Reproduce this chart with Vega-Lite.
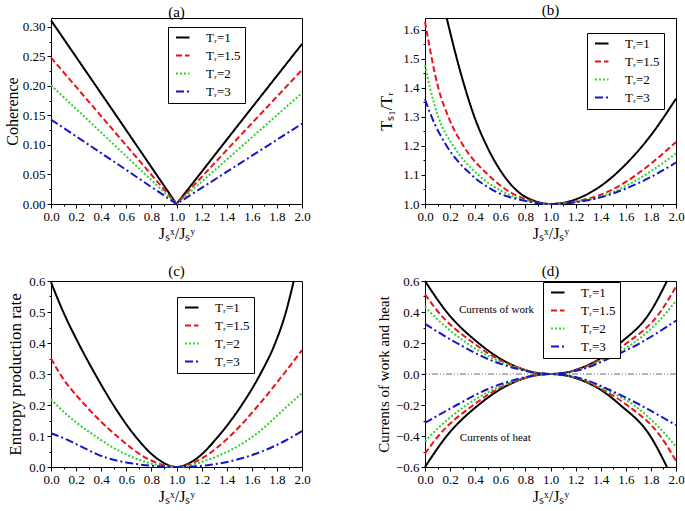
{
  "$schema": "https://vega.github.io/schema/vega-lite/v6.json",
  "background": "white",
  "padding": {"left": 3, "top": 2, "right": 5, "bottom": 2},
  "config": {
    "font": "Liberation Serif",
    "view": {"stroke": "black", "strokeWidth": 1},
    "axis": {"domainColor": "black", "tickColor": "black", "labelColor": "black", "titleColor": "black", "labelFont": "Liberation Serif", "titleFont": "Liberation Serif", "labelFontSize": 13, "titleFontSize": 16, "titleFontWeight": "normal", "grid": false, "tickSize": 4, "labelPadding": 2, "labelFlush": false, "labelOverlap": false},
    "title": {"font": "Liberation Serif", "fontSize": 15, "fontWeight": "normal", "offset": -4, "color": "black"},
    "legend": {"orient": "none", "title": null, "strokeColor": "black", "fillColor": "white", "padding": 4, "labelFont": "Liberation Serif", "labelFontSize": 13, "labelColor": "black", "symbolType": "M-0.5,0H2.2", "symbolSize": 100, "symbolStrokeWidth": 2, "rowPadding": 4, "labelOffset": 21},
    "line": {"strokeWidth": 2, "interpolate": "monotone"}
  },
  "bounds": "flush",
  "columns": 2,
  "spacing": {"row": 77, "column": 123},
  "resolve": {"scale": {"color": "independent", "strokeDash": "independent"}},
  "datasets": {
    "a": [
      {"T": "1", "x": 0, "y": 0.311}, {"T": "1", "x": 0.5, "y": 0.156}, {"T": "1", "x": 1.0, "y": 0}, {"T": "1", "x": 1.5, "y": 0.136}, {"T": "1", "x": 2.0, "y": 0.271},
      {"T": "1.5", "x": 0, "y": 0.248}, {"T": "1.5", "x": 0.5, "y": 0.124}, {"T": "1.5", "x": 1.0, "y": 0}, {"T": "1.5", "x": 1.5, "y": 0.114}, {"T": "1.5", "x": 2.0, "y": 0.227},
      {"T": "2", "x": 0, "y": 0.201}, {"T": "2", "x": 0.5, "y": 0.101}, {"T": "2", "x": 1.0, "y": 0}, {"T": "2", "x": 1.5, "y": 0.094}, {"T": "2", "x": 2.0, "y": 0.188},
      {"T": "3", "x": 0, "y": 0.143}, {"T": "3", "x": 0.5, "y": 0.072}, {"T": "3", "x": 1.0, "y": 0}, {"T": "3", "x": 1.5, "y": 0.068}, {"T": "3", "x": 2.0, "y": 0.136}
    ],
    "b": [
      {"T": "1", "x": 0.173, "y": 1.641}, {"T": "1", "x": 0.226, "y": 1.547}, {"T": "1", "x": 0.319, "y": 1.40}, {"T": "1", "x": 0.394, "y": 1.30}, {"T": "1", "x": 0.492, "y": 1.20}, {"T": "1", "x": 0.625, "y": 1.10}, {"T": "1", "x": 0.745, "y": 1.041}, {"T": "1", "x": 0.864, "y": 1.012}, {"T": "1", "x": 1.0, "y": 1.0}, {"T": "1", "x": 1.2, "y": 1.016}, {"T": "1", "x": 1.4, "y": 1.062}, {"T": "1", "x": 1.6, "y": 1.137}, {"T": "1", "x": 1.8, "y": 1.237}, {"T": "1", "x": 2.0, "y": 1.363},
      {"T": "1.5", "x": 0, "y": 1.628}, {"T": "1.5", "x": 0.106, "y": 1.40}, {"T": "1.5", "x": 0.186, "y": 1.30}, {"T": "1.5", "x": 0.306, "y": 1.20}, {"T": "1.5", "x": 0.505, "y": 1.10}, {"T": "1.5", "x": 0.678, "y": 1.041}, {"T": "1.5", "x": 0.838, "y": 1.012}, {"T": "1.5", "x": 1.0, "y": 1.0}, {"T": "1.5", "x": 1.2, "y": 1.009}, {"T": "1.5", "x": 1.4, "y": 1.032}, {"T": "1.5", "x": 1.6, "y": 1.076}, {"T": "1.5", "x": 1.8, "y": 1.139}, {"T": "1.5", "x": 2.0, "y": 1.214},
      {"T": "2", "x": 0, "y": 1.478}, {"T": "2", "x": 0.04, "y": 1.40}, {"T": "2", "x": 0.106, "y": 1.30}, {"T": "2", "x": 0.226, "y": 1.20}, {"T": "2", "x": 0.426, "y": 1.10}, {"T": "2", "x": 0.625, "y": 1.041}, {"T": "2", "x": 0.81, "y": 1.012}, {"T": "2", "x": 1.0, "y": 1.0}, {"T": "2", "x": 1.2, "y": 1.007}, {"T": "2", "x": 1.4, "y": 1.026}, {"T": "2", "x": 1.6, "y": 1.062}, {"T": "2", "x": 1.8, "y": 1.113}, {"T": "2", "x": 2.0, "y": 1.174},
      {"T": "3", "x": 0, "y": 1.361}, {"T": "3", "x": 0.053, "y": 1.30}, {"T": "3", "x": 0.173, "y": 1.20}, {"T": "3", "x": 0.372, "y": 1.10}, {"T": "3", "x": 0.572, "y": 1.041}, {"T": "3", "x": 0.785, "y": 1.012}, {"T": "3", "x": 1.0, "y": 1.0}, {"T": "3", "x": 1.2, "y": 1.006}, {"T": "3", "x": 1.4, "y": 1.023}, {"T": "3", "x": 1.6, "y": 1.053}, {"T": "3", "x": 1.8, "y": 1.093}, {"T": "3", "x": 2.0, "y": 1.143}
    ],
    "c": [
      {"T": "1", "x": 0, "y": 0.596}, {"T": "1", "x": 0.098, "y": 0.5}, {"T": "1", "x": 0.218, "y": 0.4}, {"T": "1", "x": 0.351, "y": 0.3}, {"T": "1", "x": 0.497, "y": 0.2}, {"T": "1", "x": 0.67, "y": 0.1}, {"T": "1", "x": 0.843, "y": 0.028}, {"T": "1", "x": 1.0, "y": 0}, {"T": "1", "x": 1.162, "y": 0.028}, {"T": "1", "x": 1.335, "y": 0.1}, {"T": "1", "x": 1.52, "y": 0.2}, {"T": "1", "x": 1.668, "y": 0.3}, {"T": "1", "x": 1.787, "y": 0.4}, {"T": "1", "x": 1.872, "y": 0.5}, {"T": "1", "x": 1.934, "y": 0.6},
      {"T": "1.5", "x": 0, "y": 0.350}, {"T": "1.5", "x": 0.072, "y": 0.3}, {"T": "1.5", "x": 0.271, "y": 0.2}, {"T": "1.5", "x": 0.524, "y": 0.1}, {"T": "1.5", "x": 0.763, "y": 0.028}, {"T": "1.5", "x": 1.0, "y": 0}, {"T": "1.5", "x": 1.202, "y": 0.028}, {"T": "1.5", "x": 1.428, "y": 0.1}, {"T": "1.5", "x": 1.654, "y": 0.2}, {"T": "1.5", "x": 1.854, "y": 0.3}, {"T": "1.5", "x": 2.0, "y": 0.377},
      {"T": "2", "x": 0, "y": 0.219}, {"T": "2", "x": 0.045, "y": 0.2}, {"T": "2", "x": 0.351, "y": 0.1}, {"T": "2", "x": 0.67, "y": 0.028}, {"T": "2", "x": 1.0, "y": 0}, {"T": "2", "x": 1.282, "y": 0.028}, {"T": "2", "x": 1.614, "y": 0.1}, {"T": "2", "x": 1.894, "y": 0.2}, {"T": "2", "x": 2.0, "y": 0.238},
      {"T": "3", "x": 0, "y": 0.109}, {"T": "3", "x": 0.059, "y": 0.1}, {"T": "3", "x": 0.457, "y": 0.028}, {"T": "3", "x": 0.75, "y": 0.006}, {"T": "3", "x": 1.0, "y": 0}, {"T": "3", "x": 1.25, "y": 0.006}, {"T": "3", "x": 1.52, "y": 0.028}, {"T": "3", "x": 1.934, "y": 0.1}, {"T": "3", "x": 2.0, "y": 0.116}
    ],
    "d": [
      {"T": "1", "b": "w", "x": 0, "y": 0.6}, {"T": "1", "b": "w", "x": 0.173, "y": 0.4}, {"T": "1", "b": "w", "x": 0.426, "y": 0.2}, {"T": "1", "b": "w", "x": 0.598, "y": 0.1}, {"T": "1", "b": "w", "x": 0.758, "y": 0.037}, {"T": "1", "b": "w", "x": 0.9, "y": 0.006}, {"T": "1", "b": "w", "x": 1.0, "y": 0}, {"T": "1", "b": "w", "x": 1.1, "y": 0.006}, {"T": "1", "b": "w", "x": 1.237, "y": 0.037}, {"T": "1", "b": "w", "x": 1.396, "y": 0.1}, {"T": "1", "b": "w", "x": 1.556, "y": 0.2}, {"T": "1", "b": "w", "x": 1.795, "y": 0.4}, {"T": "1", "b": "w", "x": 1.928, "y": 0.6},
      {"T": "1", "b": "h", "x": 0, "y": -0.6}, {"T": "1", "b": "h", "x": 0.173, "y": -0.4}, {"T": "1", "b": "h", "x": 0.426, "y": -0.2}, {"T": "1", "b": "h", "x": 0.598, "y": -0.1}, {"T": "1", "b": "h", "x": 0.758, "y": -0.037}, {"T": "1", "b": "h", "x": 0.9, "y": -0.006}, {"T": "1", "b": "h", "x": 1.0, "y": 0}, {"T": "1", "b": "h", "x": 1.1, "y": -0.006}, {"T": "1", "b": "h", "x": 1.237, "y": -0.037}, {"T": "1", "b": "h", "x": 1.396, "y": -0.1}, {"T": "1", "b": "h", "x": 1.556, "y": -0.2}, {"T": "1", "b": "h", "x": 1.795, "y": -0.4}, {"T": "1", "b": "h", "x": 1.928, "y": -0.6},
      {"T": "1.5", "b": "w", "x": 0, "y": 0.514}, {"T": "1.5", "b": "w", "x": 0.106, "y": 0.4}, {"T": "1.5", "b": "w", "x": 0.386, "y": 0.2}, {"T": "1.5", "b": "w", "x": 0.572, "y": 0.1}, {"T": "1.5", "b": "w", "x": 0.758, "y": 0.037}, {"T": "1.5", "b": "w", "x": 0.9, "y": 0.006}, {"T": "1.5", "b": "w", "x": 1.0, "y": 0}, {"T": "1.5", "b": "w", "x": 1.1, "y": 0.006}, {"T": "1.5", "b": "w", "x": 1.25, "y": 0.037}, {"T": "1.5", "b": "w", "x": 1.41, "y": 0.1}, {"T": "1.5", "b": "w", "x": 1.609, "y": 0.2}, {"T": "1.5", "b": "w", "x": 1.875, "y": 0.4}, {"T": "1.5", "b": "w", "x": 2.0, "y": 0.563},
      {"T": "1.5", "b": "h", "x": 0, "y": -0.514}, {"T": "1.5", "b": "h", "x": 0.106, "y": -0.4}, {"T": "1.5", "b": "h", "x": 0.386, "y": -0.2}, {"T": "1.5", "b": "h", "x": 0.572, "y": -0.1}, {"T": "1.5", "b": "h", "x": 0.758, "y": -0.037}, {"T": "1.5", "b": "h", "x": 0.9, "y": -0.006}, {"T": "1.5", "b": "h", "x": 1.0, "y": 0}, {"T": "1.5", "b": "h", "x": 1.1, "y": -0.006}, {"T": "1.5", "b": "h", "x": 1.25, "y": -0.037}, {"T": "1.5", "b": "h", "x": 1.41, "y": -0.1}, {"T": "1.5", "b": "h", "x": 1.609, "y": -0.2}, {"T": "1.5", "b": "h", "x": 1.875, "y": -0.4}, {"T": "1.5", "b": "h", "x": 2.0, "y": -0.56},
      {"T": "2", "b": "w", "x": 0, "y": 0.434}, {"T": "2", "b": "w", "x": 0.04, "y": 0.4}, {"T": "2", "b": "w", "x": 0.332, "y": 0.2}, {"T": "2", "b": "w", "x": 0.545, "y": 0.1}, {"T": "2", "b": "w", "x": 0.745, "y": 0.037}, {"T": "2", "b": "w", "x": 0.9, "y": 0.006}, {"T": "2", "b": "w", "x": 1.0, "y": 0}, {"T": "2", "b": "w", "x": 1.1, "y": 0.006}, {"T": "2", "b": "w", "x": 1.263, "y": 0.037}, {"T": "2", "b": "w", "x": 1.436, "y": 0.1}, {"T": "2", "b": "w", "x": 1.662, "y": 0.2}, {"T": "2", "b": "w", "x": 1.928, "y": 0.4}, {"T": "2", "b": "w", "x": 2.0, "y": 0.473},
      {"T": "2", "b": "h", "x": 0, "y": -0.434}, {"T": "2", "b": "h", "x": 0.04, "y": -0.4}, {"T": "2", "b": "h", "x": 0.332, "y": -0.2}, {"T": "2", "b": "h", "x": 0.545, "y": -0.1}, {"T": "2", "b": "h", "x": 0.745, "y": -0.037}, {"T": "2", "b": "h", "x": 0.9, "y": -0.006}, {"T": "2", "b": "h", "x": 1.0, "y": 0}, {"T": "2", "b": "h", "x": 1.1, "y": -0.006}, {"T": "2", "b": "h", "x": 1.263, "y": -0.037}, {"T": "2", "b": "h", "x": 1.436, "y": -0.1}, {"T": "2", "b": "h", "x": 1.662, "y": -0.2}, {"T": "2", "b": "h", "x": 1.928, "y": -0.4}, {"T": "2", "b": "h", "x": 2.0, "y": -0.469},
      {"T": "3", "b": "w", "x": 0, "y": 0.323}, {"T": "3", "b": "w", "x": 0.253, "y": 0.2}, {"T": "3", "b": "w", "x": 0.492, "y": 0.1}, {"T": "3", "b": "w", "x": 0.718, "y": 0.037}, {"T": "3", "b": "w", "x": 0.9, "y": 0.006}, {"T": "3", "b": "w", "x": 1.0, "y": 0}, {"T": "3", "b": "w", "x": 1.1, "y": 0.006}, {"T": "3", "b": "w", "x": 1.277, "y": 0.037}, {"T": "3", "b": "w", "x": 1.463, "y": 0.1}, {"T": "3", "b": "w", "x": 1.715, "y": 0.2}, {"T": "3", "b": "w", "x": 2.0, "y": 0.344},
      {"T": "3", "b": "h", "x": 0, "y": -0.316}, {"T": "3", "b": "h", "x": 0.253, "y": -0.2}, {"T": "3", "b": "h", "x": 0.492, "y": -0.1}, {"T": "3", "b": "h", "x": 0.718, "y": -0.037}, {"T": "3", "b": "h", "x": 0.9, "y": -0.006}, {"T": "3", "b": "h", "x": 1.0, "y": 0}, {"T": "3", "b": "h", "x": 1.1, "y": -0.006}, {"T": "3", "b": "h", "x": 1.277, "y": -0.037}, {"T": "3", "b": "h", "x": 1.463, "y": -0.1}, {"T": "3", "b": "h", "x": 1.715, "y": -0.2}, {"T": "3", "b": "h", "x": 2.0, "y": -0.33}
    ],
    "dzero": [{"y": 0}],
    "dtext": [
      {"x": 0.57, "y": 0.41, "label": "Currents of work"},
      {"x": 0.56, "y": -0.41, "label": "Currents of heat"}
    ]
  },
  "concat": [
    {
      "width": 251, "height": 186,
      "title": "(a)",
      "data": {"name": "a"},
      "mark": {"type": "line", "interpolate": "linear"},
      "encoding": {
        "x": {"field": "x", "type": "quantitative", "scale": {"domain": [0, 2], "nice": false}, "axis": {"values": [0, 0.1, 0.2, 0.3, 0.4, 0.5, 0.6, 0.7, 0.8, 0.9, 1.0, 1.1, 1.2, 1.3, 1.4, 1.5, 1.6, 1.7, 1.8, 1.9, 2.0], "labelExpr": "abs(round(datum.value*5)-datum.value*5)<0.001 ? format(datum.value, '.1f') : ''", "tickSize": {"condition": {"test": "abs(round(datum.value*5)-datum.value*5)<0.001", "value": 4}, "value": 2}, "title": "Jₛˣ/Jₛʸ", "titlePadding": 2}},
        "y": {"field": "y", "type": "quantitative", "scale": {"domain": [0, 0.315], "nice": false}, "axis": {"values": [0, 0.025, 0.05, 0.075, 0.1, 0.125, 0.15, 0.175, 0.2, 0.225, 0.25, 0.275, 0.3], "labelExpr": "abs(round(datum.value*20)-datum.value*20)<0.001 ? format(datum.value, '.2f') : ''", "tickSize": {"condition": {"test": "abs(round(datum.value*20)-datum.value*20)<0.001", "value": 4}, "value": 2}, "title": "Coherence", "titleFontSize": 16, "titlePadding": 2}},
        "color": {"field": "T", "type": "nominal", "scale": {"domain": ["1", "1.5", "2", "3"], "range": ["#000000", "#e8141b", "#2fd12f", "#1515c8"]}, "legend": {"legendX": 117, "legendY": 9, "labelExpr": "'Tᵣ=' + datum.label"}},
        "strokeDash": {"field": "T", "type": "nominal", "scale": {"domain": ["1", "1.5", "2", "3"], "range": [[1, 0], [6, 3], [2, 2], [8, 3, 2, 3]]}, "legend": {"legendX": 117, "legendY": 9, "labelExpr": "'Tᵣ=' + datum.label"}}
      }
    },
    {
      "width": 251, "height": 186,
      "title": "(b)",
      "data": {"name": "b"},
      "mark": {"type": "line"},
      "encoding": {
        "x": {"field": "x", "type": "quantitative", "scale": {"domain": [0, 2], "nice": false}, "axis": {"values": [0, 0.1, 0.2, 0.3, 0.4, 0.5, 0.6, 0.7, 0.8, 0.9, 1.0, 1.1, 1.2, 1.3, 1.4, 1.5, 1.6, 1.7, 1.8, 1.9, 2.0], "labelExpr": "abs(round(datum.value*5)-datum.value*5)<0.001 ? format(datum.value, '.1f') : ''", "tickSize": {"condition": {"test": "abs(round(datum.value*5)-datum.value*5)<0.001", "value": 4}, "value": 2}, "title": "Jₛˣ/Jₛʸ", "titlePadding": 2}},
        "y": {"field": "y", "type": "quantitative", "scale": {"domain": [1.0, 1.641], "nice": false, "zero": false}, "axis": {"values": [1.0, 1.05, 1.1, 1.15, 1.2, 1.25, 1.3, 1.35, 1.4, 1.45, 1.5, 1.55, 1.6], "labelExpr": "abs(round(datum.value*10)-datum.value*10)<0.001 ? format(datum.value, '.1f') : ''", "tickSize": {"condition": {"test": "abs(round(datum.value*10)-datum.value*10)<0.001", "value": 4}, "value": 2}, "title": "Tₛ₁/Tᵣ", "titlePadding": 8}},
        "color": {"field": "T", "type": "nominal", "scale": {"domain": ["1", "1.5", "2", "3"], "range": ["#000000", "#e8141b", "#2fd12f", "#1515c8"]}, "legend": {"legendX": 162, "legendY": 15, "labelExpr": "'Tᵣ=' + datum.label"}},
        "strokeDash": {"field": "T", "type": "nominal", "scale": {"domain": ["1", "1.5", "2", "3"], "range": [[1, 0], [6, 3], [2, 2], [8, 3, 2, 3]]}, "legend": {"legendX": 162, "legendY": 15, "labelExpr": "'Tᵣ=' + datum.label"}}
      }
    },
    {
      "width": 251, "height": 186,
      "title": "(c)",
      "data": {"name": "c"},
      "mark": {"type": "line"},
      "encoding": {
        "x": {"field": "x", "type": "quantitative", "scale": {"domain": [0, 2], "nice": false}, "axis": {"values": [0, 0.1, 0.2, 0.3, 0.4, 0.5, 0.6, 0.7, 0.8, 0.9, 1.0, 1.1, 1.2, 1.3, 1.4, 1.5, 1.6, 1.7, 1.8, 1.9, 2.0], "labelExpr": "abs(round(datum.value*5)-datum.value*5)<0.001 ? format(datum.value, '.1f') : ''", "tickSize": {"condition": {"test": "abs(round(datum.value*5)-datum.value*5)<0.001", "value": 4}, "value": 2}, "title": "Jₛˣ/Jₛʸ", "titlePadding": 2}},
        "y": {"field": "y", "type": "quantitative", "scale": {"domain": [0, 0.6], "nice": false}, "axis": {"values": [0, 0.05, 0.1, 0.15, 0.2, 0.25, 0.3, 0.35, 0.4, 0.45, 0.5, 0.55, 0.6], "labelExpr": "abs(round(datum.value*10)-datum.value*10)<0.001 ? format(datum.value, '.1f') : ''", "tickSize": {"condition": {"test": "abs(round(datum.value*10)-datum.value*10)<0.001", "value": 4}, "value": 2}, "title": "Entropy production rate", "titleFontSize": 17, "titlePadding": 4}},
        "color": {"field": "T", "type": "nominal", "scale": {"domain": ["1", "1.5", "2", "3"], "range": ["#000000", "#e8141b", "#2fd12f", "#1515c8"]}, "legend": {"legendX": 126, "legendY": 16, "labelExpr": "'Tᵣ=' + datum.label"}},
        "strokeDash": {"field": "T", "type": "nominal", "scale": {"domain": ["1", "1.5", "2", "3"], "range": [[1, 0], [6, 3], [2, 2], [8, 3, 2, 3]]}, "legend": {"legendX": 126, "legendY": 16, "labelExpr": "'Tᵣ=' + datum.label"}}
      }
    },
    {
      "width": 251, "height": 186,
      "title": "(d)",
      "encoding": {
        "y": {"field": "y", "type": "quantitative", "scale": {"domain": [-0.6, 0.6], "nice": false}, "axis": {"values": [-0.6, -0.5, -0.4, -0.3, -0.2, -0.1, 0, 0.1, 0.2, 0.3, 0.4, 0.5, 0.6], "labelExpr": "abs(round(datum.value*5)-datum.value*5)<0.001 ? format(datum.value, '.1f') : ''", "tickSize": {"condition": {"test": "abs(round(datum.value*5)-datum.value*5)<0.001", "value": 4}, "value": 2}, "title": "Currents of work and heat", "titleFontSize": 15, "titlePadding": 4}}
      },
      "layer": [
        {
          "data": {"name": "dzero"},
          "mark": {"type": "rule", "color": "#444444", "strokeWidth": 0.8, "strokeDash": [6, 2, 1, 2, 1, 2]},
          "encoding": {}
        },
        {
          "data": {"name": "d"},
          "mark": {"type": "line"},
          "encoding": {
            "x": {"field": "x", "type": "quantitative", "scale": {"domain": [0, 2], "nice": false}, "axis": {"values": [0, 0.1, 0.2, 0.3, 0.4, 0.5, 0.6, 0.7, 0.8, 0.9, 1.0, 1.1, 1.2, 1.3, 1.4, 1.5, 1.6, 1.7, 1.8, 1.9, 2.0], "labelExpr": "abs(round(datum.value*5)-datum.value*5)<0.001 ? format(datum.value, '.1f') : ''", "tickSize": {"condition": {"test": "abs(round(datum.value*5)-datum.value*5)<0.001", "value": 4}, "value": 2}, "title": "Jₛˣ/Jₛʸ", "titlePadding": 2}},
            "detail": {"field": "b", "type": "nominal"},
            "color": {"field": "T", "type": "nominal", "scale": {"domain": ["1", "1.5", "2", "3"], "range": ["#000000", "#e8141b", "#2fd12f", "#1515c8"]}, "legend": {"legendX": 118, "legendY": 1, "labelExpr": "'Tᵣ=' + datum.label"}},
            "strokeDash": {"field": "T", "type": "nominal", "scale": {"domain": ["1", "1.5", "2", "3"], "range": [[1, 0], [6, 3], [2, 2], [8, 3, 2, 3]]}, "legend": {"legendX": 118, "legendY": 1, "labelExpr": "'Tᵣ=' + datum.label"}}
          }
        },
        {
          "data": {"name": "dtext"},
          "mark": {"type": "text", "font": "Liberation Serif", "fontSize": 11, "color": "black"},
          "encoding": {
            "x": {"field": "x", "type": "quantitative", "scale": {"domain": [0, 2], "nice": false}, "axis": {"values": [0, 0.1, 0.2, 0.3, 0.4, 0.5, 0.6, 0.7, 0.8, 0.9, 1.0, 1.1, 1.2, 1.3, 1.4, 1.5, 1.6, 1.7, 1.8, 1.9, 2.0], "labelExpr": "abs(round(datum.value*5)-datum.value*5)<0.001 ? format(datum.value, '.1f') : ''", "tickSize": {"condition": {"test": "abs(round(datum.value*5)-datum.value*5)<0.001", "value": 4}, "value": 2}, "title": "Jₛˣ/Jₛʸ", "titlePadding": 2}},
            "text": {"field": "label", "type": "nominal"}
          }
        }
      ]
    }
  ]
}
